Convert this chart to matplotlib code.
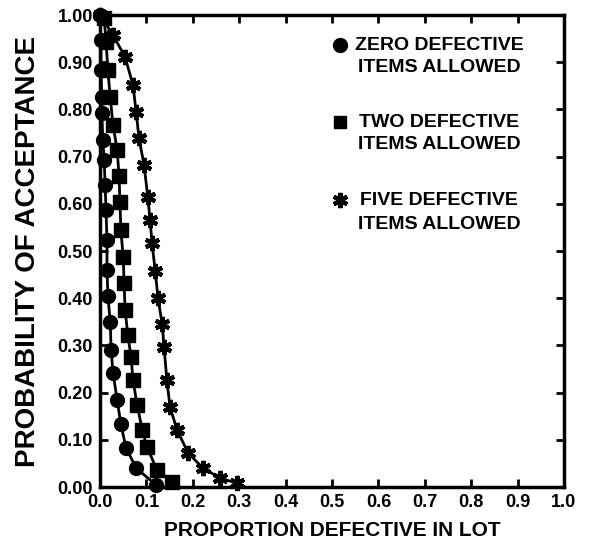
import matplotlib
matplotlib.use("Agg")
import matplotlib.pyplot as plt

plt.rcParams['font.family'] = ['Liberation Sans', 'DejaVu Sans']
plt.rcParams['font.weight'] = 'bold'

# values
zero_x = [0.000, 0.002, 0.002, 0.004, 0.004, 0.006, 0.009, 0.011, 0.013, 0.015,
          0.015, 0.017, 0.022, 0.024, 0.028, 0.037, 0.045, 0.056, 0.078, 0.121]
zero_y = [1.000, 0.947, 0.883, 0.826, 0.792, 0.735, 0.693, 0.640, 0.587, 0.523,
          0.460, 0.405, 0.350, 0.290, 0.242, 0.184, 0.133, 0.083, 0.040, 0.004]

two_x = [0.009, 0.013, 0.017, 0.022, 0.028, 0.037, 0.041, 0.043, 0.045, 0.050,
         0.052, 0.054, 0.060, 0.067, 0.071, 0.080, 0.091, 0.101, 0.123, 0.155]
two_y = [0.994, 0.943, 0.883, 0.826, 0.767, 0.714, 0.659, 0.604, 0.544, 0.487,
         0.432, 0.375, 0.322, 0.275, 0.227, 0.174, 0.121, 0.085, 0.036, 0.011]

five_x = [0.000, 0.028, 0.054, 0.071, 0.078, 0.084, 0.095, 0.103, 0.108, 0.112,
          0.119, 0.125, 0.134, 0.138, 0.144, 0.151, 0.166, 0.190, 0.222, 0.259, 0.295]
five_y = [1.000, 0.958, 0.911, 0.852, 0.794, 0.739, 0.682, 0.614, 0.566, 0.517,
          0.458, 0.400, 0.345, 0.297, 0.227, 0.169, 0.121, 0.072, 0.040, 0.019, 0.008]

x_ticks = [0.0, 0.1, 0.2, 0.3, 0.4, 0.5, 0.6, 0.7, 0.8, 0.9, 1.0]
y_ticks = [0.0, 0.1, 0.2, 0.3, 0.4, 0.5, 0.6, 0.7, 0.8, 0.9, 1.0]

legend_labels = [("ZERO DEFECTIVE", "ITEMS ALLOWED"),
                 ("TWO DEFECTIVE", "ITEMS ALLOWED"),
                 ("FIVE DEFECTIVE", "ITEMS ALLOWED")]

star = (6, 2, 0)

fig = plt.figure(figsize=(5.9, 5.48), dpi=100)
ax = fig.add_axes([0.1695, 0.1113, 0.7864, 0.8613])

ax.plot(zero_x, zero_y, color='black', lw=2, marker='o', ms=10, clip_on=False, zorder=3)
ax.plot(two_x, two_y, color='black', lw=2, marker='s', ms=9.5, clip_on=False, zorder=3)
ax.plot(five_x, five_y, color='black', lw=2, marker=star, ms=11, mew=3,
        clip_on=False, zorder=3)

ax.set_xlim(0, 1)
ax.set_ylim(0, 1)
ax.set_xticks(x_ticks)
ax.set_yticks(y_ticks)
ax.set_xticklabels([f"{v:.1f}" for v in x_ticks])
ax.set_yticklabels([f"{v:.2f}" for v in y_ticks])

for s in ax.spines.values():
    s.set_linewidth(2.5)
ax.tick_params(direction='in', length=6, width=2, top=True, right=True,
               labelsize=13, pad=5)

ax.set_xlabel("PROPORTION DEFECTIVE IN LOT", fontsize=15, fontweight='bold', labelpad=7)
ax.set_ylabel("PROBABILITY OF ACCEPTANCE", fontsize=20, fontweight='bold', labelpad=12)

# hand-made legend like the original
markers = [dict(marker='o', ms=10), dict(marker='s', ms=9), dict(marker=star, ms=11, mew=3)]
rows = [(0.936, 0.888), (0.773, 0.725), (0.608, 0.557)]
for (l1, l2), mk, (y1, y2) in zip(legend_labels, markers, rows):
    ax.plot([0.517], [y1], color='black', ls='none', transform=ax.transAxes, **mk)
    ax.text(0.731, y1, l1, transform=ax.transAxes, ha='center', va='center',
            fontsize=14, fontweight='bold')
    ax.text(0.731, y2, l2, transform=ax.transAxes, ha='center', va='center',
            fontsize=14, fontweight='bold')

fig.savefig("out.png", dpi=100)
